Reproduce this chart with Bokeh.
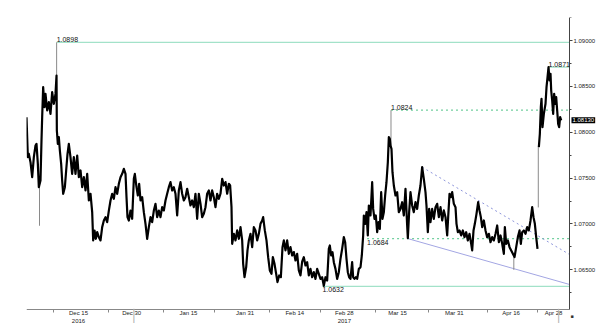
from bokeh.plotting import figure
from bokeh.models import Range1d, FixedTicker, NumeralTickFormatter, Label
from bokeh.embed import file_html
from bokeh.resources import INLINE

# x: days since 2016-12-15, y: price
day = [
    -14.67, -14.29, -14.01, -13.54, -13.07, -12.60, -12.13, -11.85, -11.47, -11.19,
    -10.72, -10.44, -10.25, -9.97, -9.59, -9.31, -8.84, -8.37, -7.90, -7.43,
    -6.96, -6.49, -6.20, -6.11, -5.83, -5.55, -5.26, -4.89, -4.61, -4.32,
    -3.85, -3.48, -3.10, -2.73, -2.26, -1.79, -1.32, -0.85, -0.37, 0.10,
    0.57, 1.04, 1.51, 1.98, 2.45, 2.92, 3.39, 3.86, 4.14, 4.52,
    4.89, 5.27, 5.74, 6.21, 6.68, 7.15, 7.62, 8.09, 8.56, 9.03,
    9.50, 9.97, 10.44, 10.91, 11.38, 11.85, 12.32, 12.79, 13.26, 13.54,
    13.82, 14.20, 14.67, 15.14, 15.61, 15.89, 16.36, 16.74, 17.11, 17.49,
    17.96, 18.43, 18.90, 19.37, 19.84, 20.31, 20.78, 21.25, 21.72, 22.19,
    22.66, 23.13, 23.60, 24.07, 24.54, 25.01, 25.48, 25.95, 26.42, 26.89,
    27.36, 27.83, 28.30, 28.77, 29.24, 29.71, 30.18, 30.65, 31.12, 31.59,
    32.06, 32.53, 33.00, 33.47, 33.94, 34.41, 34.88, 35.35, 35.82, 36.29,
    36.76, 37.23, 37.70, 38.17, 38.64, 39.11, 39.58, 40.05, 40.53, 41.00,
    41.47, 41.94, 42.41, 42.78, 43.16, 43.35, 43.82, 44.29, 44.76, 45.23,
    45.70, 46.17, 46.45, 46.83, 47.30, 47.67, 48.05, 48.52, 48.99, 49.46,
    49.93, 50.40, 50.87, 51.34, 51.81, 52.09, 52.56, 53.03, 53.50, 53.97,
    54.44, 54.82, 55.29, 55.76, 56.13, 56.61, 57.08, 57.55, 57.92, 58.39,
    58.86, 59.33, 59.80, 60.27, 60.74, 61.21, 61.68, 62.15, 62.62, 63.09,
    63.56, 64.03, 64.50, 64.97, 65.44, 65.91, 66.38, 66.85, 67.32, 67.79,
    68.26, 68.73, 69.20, 69.67, 70.14, 70.61, 70.89, 71.27, 71.65, 72.02,
    72.49, 72.96, 73.43, 73.90, 74.37, 74.84, 75.22, 75.60, 75.97, 76.35,
    76.72, 77.19, 77.48, 77.85, 78.23, 78.61, 79.08, 79.55, 79.92, 80.30,
    80.49, 80.86, 81.24, 81.61, 81.90, 82.37, 82.84, 83.12, 83.50, 83.87,
    84.25, 84.62, 85.00, 85.38, 85.75, 86.13, 86.50, 86.88, 87.26, 87.54,
    87.82, 88.01, 88.29, 88.57, 88.95, 89.42, 89.89, 90.36, 90.83, 91.30,
    91.77, 92.24, 92.71, 92.90, 93.27, 93.65, 94.12, 94.59, 95.06, 95.53,
    96.00, 96.47, 96.94, 97.41, 97.88, 98.16, 98.54, 98.92, 99.29, 99.76,
    100.23, 100.71, 101.18, 101.65, 102.12, 102.59, 103.06, 103.53, 104.00, 104.28,
    104.66, 105.03, 105.41, 105.88, 106.35, 106.63, 107.01, 107.48, 107.95, 108.42,
    108.89, 109.36, 109.83, 110.30, 110.77, 111.05, 111.43, 111.80, 112.27, 112.74,
    113.12, 113.50, 113.87, 114.34, 114.81, 115.28, 115.75, 116.22, 116.69, 117.16,
    117.64, 118.11, 118.58, 119.05, 119.52, 119.99, 120.27, 120.65, 121.12, 121.59,
    122.06, 122.53, 123.00, 123.47, 123.94, 124.41, 124.78, 125.16, 125.63, 126.10,
    126.57, 127.04, 127.51, 127.98, 128.35, 128.73, 129.11, 129.48,
    129.86, 130.14, 130.42, 130.61, 130.89, 131.27, 131.74, 132.02, 132.31, 132.59,
    132.87, 133.15, 133.34, 133.62, 133.90, 134.18, 134.47, 134.75, 135.03, 135.31,
    135.59, 135.87, 136.16,
]
price = [
    1.08164, 1.07728, 1.07764, 1.07673, 1.07510, 1.07728, 1.07855, 1.07873, 1.07655, 1.07401,
    1.07474, 1.07910, 1.08164, 1.08491, 1.08273, 1.08418, 1.08237, 1.08328, 1.08200, 1.08437,
    1.08309, 1.08418, 1.08618, 1.08019, 1.07873, 1.07946, 1.07801, 1.07655, 1.07474, 1.07328,
    1.07401, 1.07583, 1.07764, 1.07873, 1.07728, 1.07546, 1.07728, 1.07546, 1.07746, 1.07510,
    1.07583, 1.07401, 1.07510, 1.07365, 1.07546, 1.07256, 1.07328, 1.07128, 1.06820, 1.06928,
    1.06838, 1.06910, 1.06856, 1.06820, 1.06965, 1.07037, 1.07074, 1.07019, 1.07146, 1.07256,
    1.07328, 1.07274, 1.07401, 1.07328, 1.07437, 1.07510, 1.07546, 1.07601, 1.07546, 1.07292,
    1.07074, 1.07037, 1.07146, 1.07056, 1.07492, 1.07546, 1.07401, 1.07310, 1.07437, 1.07256,
    1.07292, 1.07128, 1.07001, 1.06838, 1.06965, 1.07074, 1.07019, 1.07146, 1.07219, 1.07074,
    1.07146, 1.07074, 1.07183, 1.07147, 1.07256, 1.07329, 1.07401, 1.07456, 1.07365, 1.07401,
    1.07329, 1.07092, 1.07365, 1.07456, 1.07329, 1.07256, 1.07292, 1.07383, 1.07292, 1.07201,
    1.07256, 1.07183, 1.07329, 1.07056, 1.07329, 1.07220, 1.07074, 1.07110, 1.07183, 1.07329,
    1.07365, 1.07256, 1.07365, 1.07292, 1.07183, 1.07329, 1.07274, 1.07329, 1.07492, 1.07419,
    1.07456, 1.07329, 1.07438, 1.07419, 1.07183, 1.06783, 1.06892, 1.06820, 1.06929, 1.06838,
    1.06965, 1.06820, 1.06565, 1.06420, 1.06529, 1.06711, 1.06820, 1.06892, 1.06747, 1.06965,
    1.06929, 1.06820, 1.06892, 1.07001, 1.07038, 1.07074, 1.06929, 1.06820, 1.06638, 1.06493,
    1.06456, 1.06638, 1.06565, 1.06456, 1.06366, 1.06438, 1.06420, 1.06747, 1.06820, 1.06711,
    1.06820, 1.06674, 1.06747, 1.06656, 1.06693, 1.06602, 1.06674, 1.06493, 1.06438, 1.06590,
    1.06637, 1.06547, 1.06583, 1.06438, 1.06510, 1.06419, 1.06474, 1.06401, 1.06510, 1.06456,
    1.06401, 1.06419, 1.06325, 1.06419, 1.06383, 1.06728, 1.06765, 1.06656, 1.06692, 1.06583,
    1.06510, 1.06401, 1.06474, 1.06619, 1.06728, 1.06856, 1.06801, 1.06619, 1.06474, 1.06419,
    1.06401, 1.06583, 1.06419, 1.06401, 1.06419, 1.06401, 1.06510, 1.06528, 1.06656, 1.06874,
    1.07092, 1.07001, 1.07128, 1.06874, 1.07201, 1.07092, 1.07455, 1.07164, 1.07055, 1.07092,
    1.06910, 1.07019, 1.06946, 1.07346, 1.07055, 1.07128, 1.07310, 1.07455, 1.07673, 1.07946,
    1.07928, 1.07855, 1.07819, 1.07564, 1.07419, 1.07310, 1.07346, 1.07128, 1.07164, 1.07237,
    1.07092, 1.07382, 1.06983, 1.06845, 1.07128, 1.07346, 1.07201, 1.07128, 1.07237, 1.07164,
    1.07310, 1.07419, 1.07619, 1.07492, 1.07346, 1.07201, 1.06910, 1.07164, 1.07019, 1.07164,
    1.07055, 1.07183, 1.07219, 1.07074, 1.07183, 1.07038, 1.07147, 1.07074, 1.06874, 1.07074,
    1.07328, 1.07292, 1.07347, 1.07219, 1.07183, 1.07001, 1.06910, 1.06929, 1.06874, 1.06929,
    1.06856, 1.06910, 1.06820, 1.06892, 1.06783, 1.06711, 1.06929, 1.07001, 1.07110, 1.07238,
    1.07147, 1.07074, 1.06965, 1.07038, 1.06929, 1.06856, 1.06892, 1.06801, 1.06856, 1.06820,
    1.06892, 1.06983, 1.06801, 1.06874, 1.06783, 1.06674, 1.06965, 1.06783, 1.06820, 1.06747,
    1.06711, 1.06674, 1.06638, 1.06747, 1.06856, 1.06929, 1.06783, 1.06910, 1.06929, 1.06892,
    1.06965, 1.06929, 1.07038, 1.07183, 1.07074, 1.07001, 1.06856, 1.06729,
    1.07837, 1.07982, 1.08273, 1.08364, 1.08055, 1.08200, 1.08310, 1.08491, 1.08600, 1.08709,
    1.08564, 1.08637, 1.08455, 1.08346, 1.08200, 1.08419, 1.08310, 1.08382, 1.08237, 1.08091,
    1.08055, 1.08164, 1.08130,
]

# weekend gap (2017-04-24 open)
gap_day = 129.7

# thin spikes (single-tick extremes / gap)
spike_day = [-11.0, -6.17, 88.15, 122.8, 129.7]
spike_from = [1.07401, 1.08618, 1.07840, 1.06660, 1.07180]
spike_to = [1.06980, 1.08980, 1.08240, 1.06500, 1.07840]

# marked levels
level_price = [1.0898, 1.0871, 1.0824, 1.0684, 1.0632]
level_start = [-6.17, 132.59, 88.15, 81.4, 68.8]
level_text = ["1.0898", "1.0871", "1.0824", "1.0684", "1.0632"]
level_dotted = [False, False, True, True, False]
level_label_below = [False, False, False, True, True]

# trend lines (day, price)
lower_trend_day = [92.9, 138.5]
lower_trend_price = [1.0684, 1.0634]
upper_trend_day = [96.94, 138.5]
upper_trend_price = [1.07619, 1.06667]

last_price = 1.0813
last_price_text = "1.08130"

# axes
x_tick_days = [0, 15, 31, 47, 61, 75, 90, 106, 122, 134]
x_tick_labels = ["Dec 15\n2016", "Dec 30", "Jan 15", "Jan 31", "Feb 14",
                 "Feb 28\n2017", "Mar 15", "Mar 31", "Apr 16", "Apr 28"]
x_minor_days = [-7, 8.5, 24, 38.5, 54, 68.3, 83.8, 98.7, 115.4, 129.5]
year_break_days = [15.6, 135.4]
y_ticks = [1.065, 1.070, 1.075, 1.080, 1.085, 1.090]
y_minor = [1.0625, 1.0675, 1.0725, 1.0775, 1.0825, 1.0875, 1.0925]

# chart domain (axes) and the full drawing area around it
x_start, x_end = -14.67, 138.5
y_start, y_end = 1.06067, 1.09251
x_view_end = 147.25
y_view_start = 1.05827

FONT = "Liberation Sans"
GREEN = "#a3e2c9"
GREEN_DOT = "#72cf9f"
PURPLE = "#a3a6e3"
PURPLE_DASH = "#8d95da"

p = figure(width=600, height=331, x_range=Range1d(x_start, x_view_end),
           y_range=Range1d(y_view_start, y_end), y_axis_location="right",
           output_backend="svg", toolbar_location=None,
           min_border_left=26, min_border_right=0, min_border_top=17,
           min_border_bottom=0)
p.xgrid.visible = False
p.ygrid.visible = False
p.outline_line_color = None
p.background_fill_color = "white"
p.border_fill_color = "white"

# level lines
for lp, ls, dot in zip(level_price, level_start, level_dotted):
    if dot:
        p.segment(x0=[ls], y0=[lp], x1=[x_end], y1=[lp], line_color=GREEN_DOT,
                  line_width=1.3, line_dash="2 3")
    else:
        p.segment(x0=[ls], y0=[lp], x1=[x_end], y1=[lp], line_color=GREEN,
                  line_width=1.3)

# trend lines
p.line(lower_trend_day, lower_trend_price, line_color=PURPLE, line_width=1)
p.line(upper_trend_day, upper_trend_price, line_color=PURPLE_DASH, line_width=1,
       line_dash="2 3")

# spikes
p.segment(x0=spike_day, y0=spike_from, x1=spike_day, y1=spike_to,
          line_color="#8a8a8a", line_width=1)

# price series split at the weekend gap
pre_d = [d for d in day if d < gap_day]
pre_p = [v for d, v in zip(day, price) if d < gap_day]
post_d = [d for d in day if d >= gap_day]
post_p = [v for d, v in zip(day, price) if d >= gap_day]
for dd, pp in ((pre_d, pre_p), (post_d, post_p)):
    p.line(dd, pp, line_color="black", line_width=2.2, line_join="round")

# level labels
for lp, ls, txt, below in zip(level_price, level_start, level_text, level_label_below):
    p.add_layout(Label(x=ls, y=lp, text=txt, text_font=FONT, text_font_size="7px",
                       text_color="#111111", text_align="left",
                       text_baseline="top" if below else "bottom",
                       y_offset=-1 if below else 0))

# last price tag
p.add_layout(Label(x=x_end, y=last_price, text=last_price_text, x_offset=2,
                   text_font=FONT, text_font_size="6px", text_color="white",
                   text_align="left", text_baseline="middle",
                   background_fill_color="black", padding=1))

# year separators below the axis
for yb in year_break_days:
    p.add_layout(Label(x=yb, y=y_start, text="\u2502", text_font="DejaVu Sans",
                       text_font_size="12px", text_color="#b0b0b0",
                       text_align="center", text_baseline="top"))

# small end marker below the axis corner
p.add_layout(Label(x=x_end, y=y_start, text="\u25aa", x_offset=1, y_offset=-4,
                   text_font="DejaVu Sans", text_font_size="5px",
                   text_color="#333333", text_align="left", text_baseline="top"))

# y axis (right), pinned at the end of the chart domain
ya = p.yaxis[0]
ya.fixed_location = x_end
ya.bounds = (y_start, y_end)
ya.ticker = FixedTicker(ticks=y_ticks, minor_ticks=y_minor)
ya.formatter = NumeralTickFormatter(format="0.00000")
ya.axis_line_color = "#444444"
ya.major_tick_out = 3
ya.major_tick_in = 0
ya.minor_tick_out = 2
ya.minor_tick_in = 0
ya.major_tick_line_color = "#444444"
ya.minor_tick_line_color = "#444444"
ya.major_label_text_font = FONT
ya.major_label_text_font_size = "6px"
ya.major_label_text_color = "#222222"
ya.major_label_standoff = 1

# x axis (bottom), pinned at the bottom of the chart domain
xa = p.xaxis[0]
xa.fixed_location = y_start
xa.bounds = (x_start, x_end)
xa.ticker = FixedTicker(ticks=x_tick_days, minor_ticks=x_minor_days)
xa.major_label_overrides = {t: lab for t, lab in zip(x_tick_days, x_tick_labels)}
xa.axis_line_color = "#888888"
xa.major_tick_out = 0
xa.major_tick_in = 0
xa.minor_tick_out = 3
xa.minor_tick_in = 0
xa.minor_tick_line_color = "#888888"
xa.major_label_text_font = FONT
xa.major_label_text_font_size = "6px"
xa.major_label_text_color = "#222222"
xa.major_label_standoff = -2

open("out.html", "w").write(file_html(p, INLINE))
